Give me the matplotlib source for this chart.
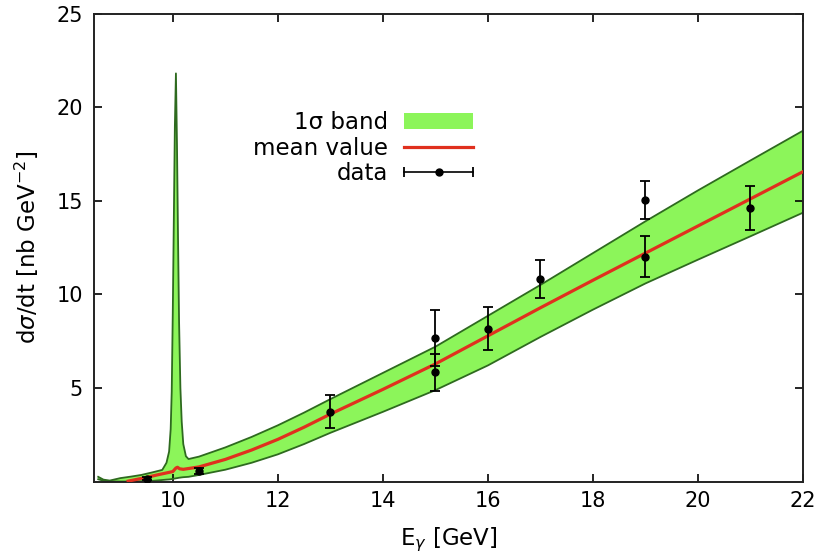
import numpy as np
import matplotlib
matplotlib.use("Agg")
import matplotlib.pyplot as plt
from matplotlib.patches import Patch
from matplotlib.lines import Line2D
from matplotlib.legend_handler import HandlerLine2D, HandlerTuple

plt.rcParams['font.family'] = ['DejaVu Sans']
plt.rcParams['mathtext.fontset'] = 'dejavusans'

# ---- data -------------------------------------------------------------
band_x = [8.58, 8.68, 8.8, 9.0, 9.2, 9.4, 9.6, 9.8, 9.88, 9.93, 9.96, 9.98,
          10.0, 10.02, 10.04, 10.06, 10.08, 10.10, 10.12, 10.145, 10.17, 10.2,
          10.25, 10.3, 10.5, 11.0, 11.5, 12.0, 12.5, 13.0, 14.0, 15.0, 16.0,
          17.0, 18.0, 19.0, 20.0, 21.0, 22.0]
band_upper = [0.25, 0.1, 0.05, 0.18, 0.26, 0.35, 0.48, 0.62, 1.0, 1.6, 2.8, 4.8,
              9.0, 14.0, 19.0, 21.8, 18.0, 13.0, 8.5, 5.0, 3.2, 2.0,
              1.35, 1.2, 1.33, 1.82, 2.38, 3.0, 3.68, 4.4, 5.8, 7.2, 8.85,
              10.5, 12.2, 13.9, 15.55, 17.15, 18.74]
band_lower = [0.12, 0.04, 0.01, 0.0, 0.0, 0.01, 0.03, 0.08, 0.1, 0.11, 0.12, 0.13,
              0.14, 0.15, 0.16, 0.17, 0.18, 0.19, 0.2, 0.21, 0.22, 0.23,
              0.24, 0.25, 0.35, 0.63, 1.0, 1.45, 2.0, 2.6, 3.72, 4.88, 6.2,
              7.72, 9.18, 10.58, 11.85, 13.1, 14.36]

mean_x = [9.15, 9.5, 9.7, 10.0, 10.06, 10.09, 10.13, 10.2, 10.5, 11.0, 11.5,
          12.0, 12.5, 13.0, 14.0, 15.0, 16.0, 17.0, 18.0, 19.0, 20.0, 21.0, 22.0]
mean_y = [0.02, 0.22, 0.35, 0.53, 0.72, 0.76, 0.68, 0.65, 0.78, 1.18, 1.68,
          2.25, 2.9, 3.6, 4.92, 6.28, 7.78, 9.28, 10.75, 12.2, 13.65, 15.1, 16.55]

data_x = [9.5, 10.49, 13.0, 15.0, 15.0, 16.0, 17.0, 19.0, 19.0, 21.0]
data_y = [0.15, 0.56, 3.73, 7.65, 5.83, 8.15, 10.82, 15.03, 12.0, 14.61]
data_err = [0.08, 0.18, 0.87, 1.5, 1.0, 1.15, 1.0, 1.0, 1.1, 1.19]

xticks = [10, 12, 14, 16, 18, 20, 22]
yticks = [5, 10, 15, 20, 25]

# ---- styles -----------------------------------------------------------
GREEN = '#8cf55a'
DKGREEN = '#2e6a1f'
RED = '#e0301e'

W, H = 827, 555
fig = plt.figure(figsize=(W / 100, H / 100), dpi=100)
L, R, T, B = 94, 803, 13.5, 481.5
ax = fig.add_axes([L / W, 1 - B / H, (R - L) / W, (B - T) / H])

ax.fill_between(band_x, band_lower, band_upper, facecolor=GREEN,
                edgecolor='none', zorder=1)
ax.plot(band_x, band_upper, color=DKGREEN, lw=1.3, zorder=2)
ax.plot(band_x, band_lower, color=DKGREEN, lw=1.3, zorder=2)
ax.plot(mean_x, mean_y, color=RED, lw=2.3, zorder=3)
ax.errorbar(data_x, data_y, yerr=data_err, fmt='o', color='black', ms=5,
            elinewidth=1.3, capsize=3.5, capthick=1.3, zorder=4)

ax.set_xlim(8.5, 22)
ax.set_ylim(0, 25)
ax.set_xticks(xticks)
ax.set_yticks(yticks)
ax.tick_params(direction='in', length=5.5, width=1.2, top=True, right=True,
               labelsize=15, colors='black')
ax.tick_params(axis='y', pad=8)
ax.tick_params(axis='x', pad=7)
for s in ax.spines.values():
    s.set_linewidth(1.4)
    s.set_color('#222222')

ax.set_xlabel(r"E$_{\gamma}$ [GeV]", fontsize=16.5)
ax.set_ylabel(r"d$\sigma$/dt [nb GeV$^{-2}$]", fontsize=16.5)
ax.xaxis.set_label_coords(0.5, -0.095)
ax.yaxis.set_label_coords(-0.075, 0.5)

# legend
band_h = Patch(facecolor=GREEN, edgecolor='none')
mean_h = Line2D([], [], color=RED, lw=2.3)
caps_h = Line2D([], [], color='black', lw=1.2, marker='|', ms=7, mew=1.3)
dot_h = Line2D([], [], color='black', ls='none', marker='o', ms=5)
data_h = (caps_h, dot_h)
leg = ax.legend([band_h, mean_h, data_h], ["1σ band", "mean value", "data"],
                handler_map={caps_h: HandlerLine2D(numpoints=2, marker_pad=0),
                             dot_h: HandlerLine2D(numpoints=1),
                             tuple: HandlerTuple(ndivide=1)},
                loc='upper right', bbox_to_anchor=(473 / W, 1 - 111 / H),
                bbox_transform=fig.transFigure, frameon=False,
                markerfirst=False, fontsize=16.5, handlelength=3.0,
                handletextpad=0.7, labelspacing=0.12, borderpad=0,
                borderaxespad=0)

fig.savefig("out.png", dpi=100)
